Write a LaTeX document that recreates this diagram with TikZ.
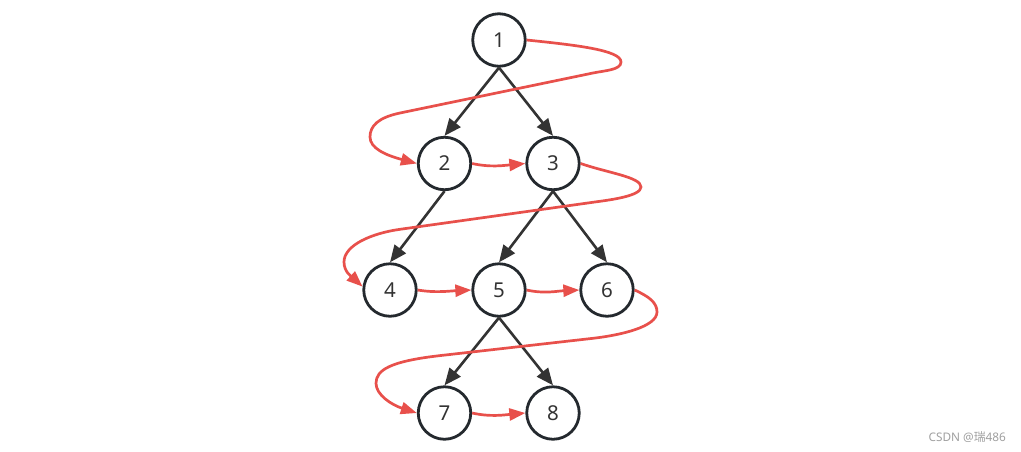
\documentclass[tikz,border=0pt]{standalone}
\usepackage{fontspec}
\setmainfont{Noto Sans}
\newfontfamily\cjkfont{Noto Sans CJK SC}
\usetikzlibrary{arrows.meta}
\definecolor{redc}{HTML}{E8504B}
\definecolor{ringc}{HTML}{24292E}
\definecolor{arrc}{HTML}{333333}
\definecolor{markc}{HTML}{A0A0A0}
\tikzset{
  vnode/.style={circle, draw=ringc, line width=2.8pt, fill=white, minimum size=52.5pt,
    inner sep=0pt, text=arrc, font=\fontsize{20.5}{22}\selectfont},
  treearrow/.style={draw=arrc, line width=2.6pt, -{Triangle[length=17pt,width=14pt]}},
  orderarrow/.style={draw=redc, line width=2.7pt, -{Triangle[length=16pt,width=12pt]}}
}
\begin{document}
\begin{tikzpicture}[x=1pt,y=-1pt]
\useasboundingbox[fill=white] (0,0) rectangle (1021,451);

\node[vnode] (n1) at (499,40) {1};
\node[vnode] (n2) at (444.5,163.5) {2};
\node[vnode] (n3) at (553,163.5) {3};
\node[vnode] (n4) at (390,290) {4};
\node[vnode] (n5) at (499,290) {5};
\node[vnode] (n6) at (607,290) {6};
\node[vnode] (n7) at (444.5,413) {7};
\node[vnode] (n8) at (553,413) {8};

\draw[treearrow] (n1.south) -- (n2.north);
\draw[treearrow] (n1.south) -- (n3.north);
\draw[treearrow] (n2.south) -- (n4.north);
\draw[treearrow] (n3.south) -- (n5.north);
\draw[treearrow] (n3.south) -- (n6.north);
\draw[treearrow] (n5.south) -- (n7.north);
\draw[treearrow] (n5.south) -- (n8.north);

% 1 -> 2
\draw[orderarrow] (n1.east) .. controls (575,45) and (621,50) .. (621,62)
  .. controls (621,70) and (605,70.5) .. (593,73) -- (400,113)
  .. controls (378,117.6) and (370,126) .. (370,137)
  .. controls (370,148) and (385,155) .. (n2.west);
% 2 -> 3
\draw[orderarrow] (n2.east) .. controls +(18,4) and +(-22,2) .. (n3.west);
% 3 -> 4
\draw[orderarrow] (n3.east) .. controls (608,173) and (641,177) .. (641,187)
  .. controls (641,196) and (610,199.9) .. (597,201.7) -- (400,229.3)
  .. controls (372,233.2) and (344,245) .. (344,262)
  .. controls (344,272) and (352,277) .. (n4.173);
% 4 -> 5
\draw[orderarrow] (n4.east) .. controls +(18,3) and +(-22,1) .. (n5.west);
% 5 -> 6
\draw[orderarrow] (n5.east) .. controls +(18,4) and +(-22,1) .. (n6.west);
% 6 -> 7
\draw[orderarrow] (n6.east) .. controls (650,297) and (657,303) .. (657,312)
  .. controls (657,327) and (620,335.2) .. (593,338.3) -- (440,355.6)
  .. controls (390,361.3) and (376,370) .. (376,383.3)
  .. controls (376,395) and (392,405) .. (n7.west);
% 7 -> 8
\draw[orderarrow] (n7.east) .. controls +(18,4) and +(-22,2) .. (n8.west);

\node[anchor=east, text=markc, inner sep=0pt, font=\fontsize{11.8}{13}\selectfont] (wm) at (1006,437) {CSDN @{\cjkfont 瑞}486};
\end{tikzpicture}
\end{document}
